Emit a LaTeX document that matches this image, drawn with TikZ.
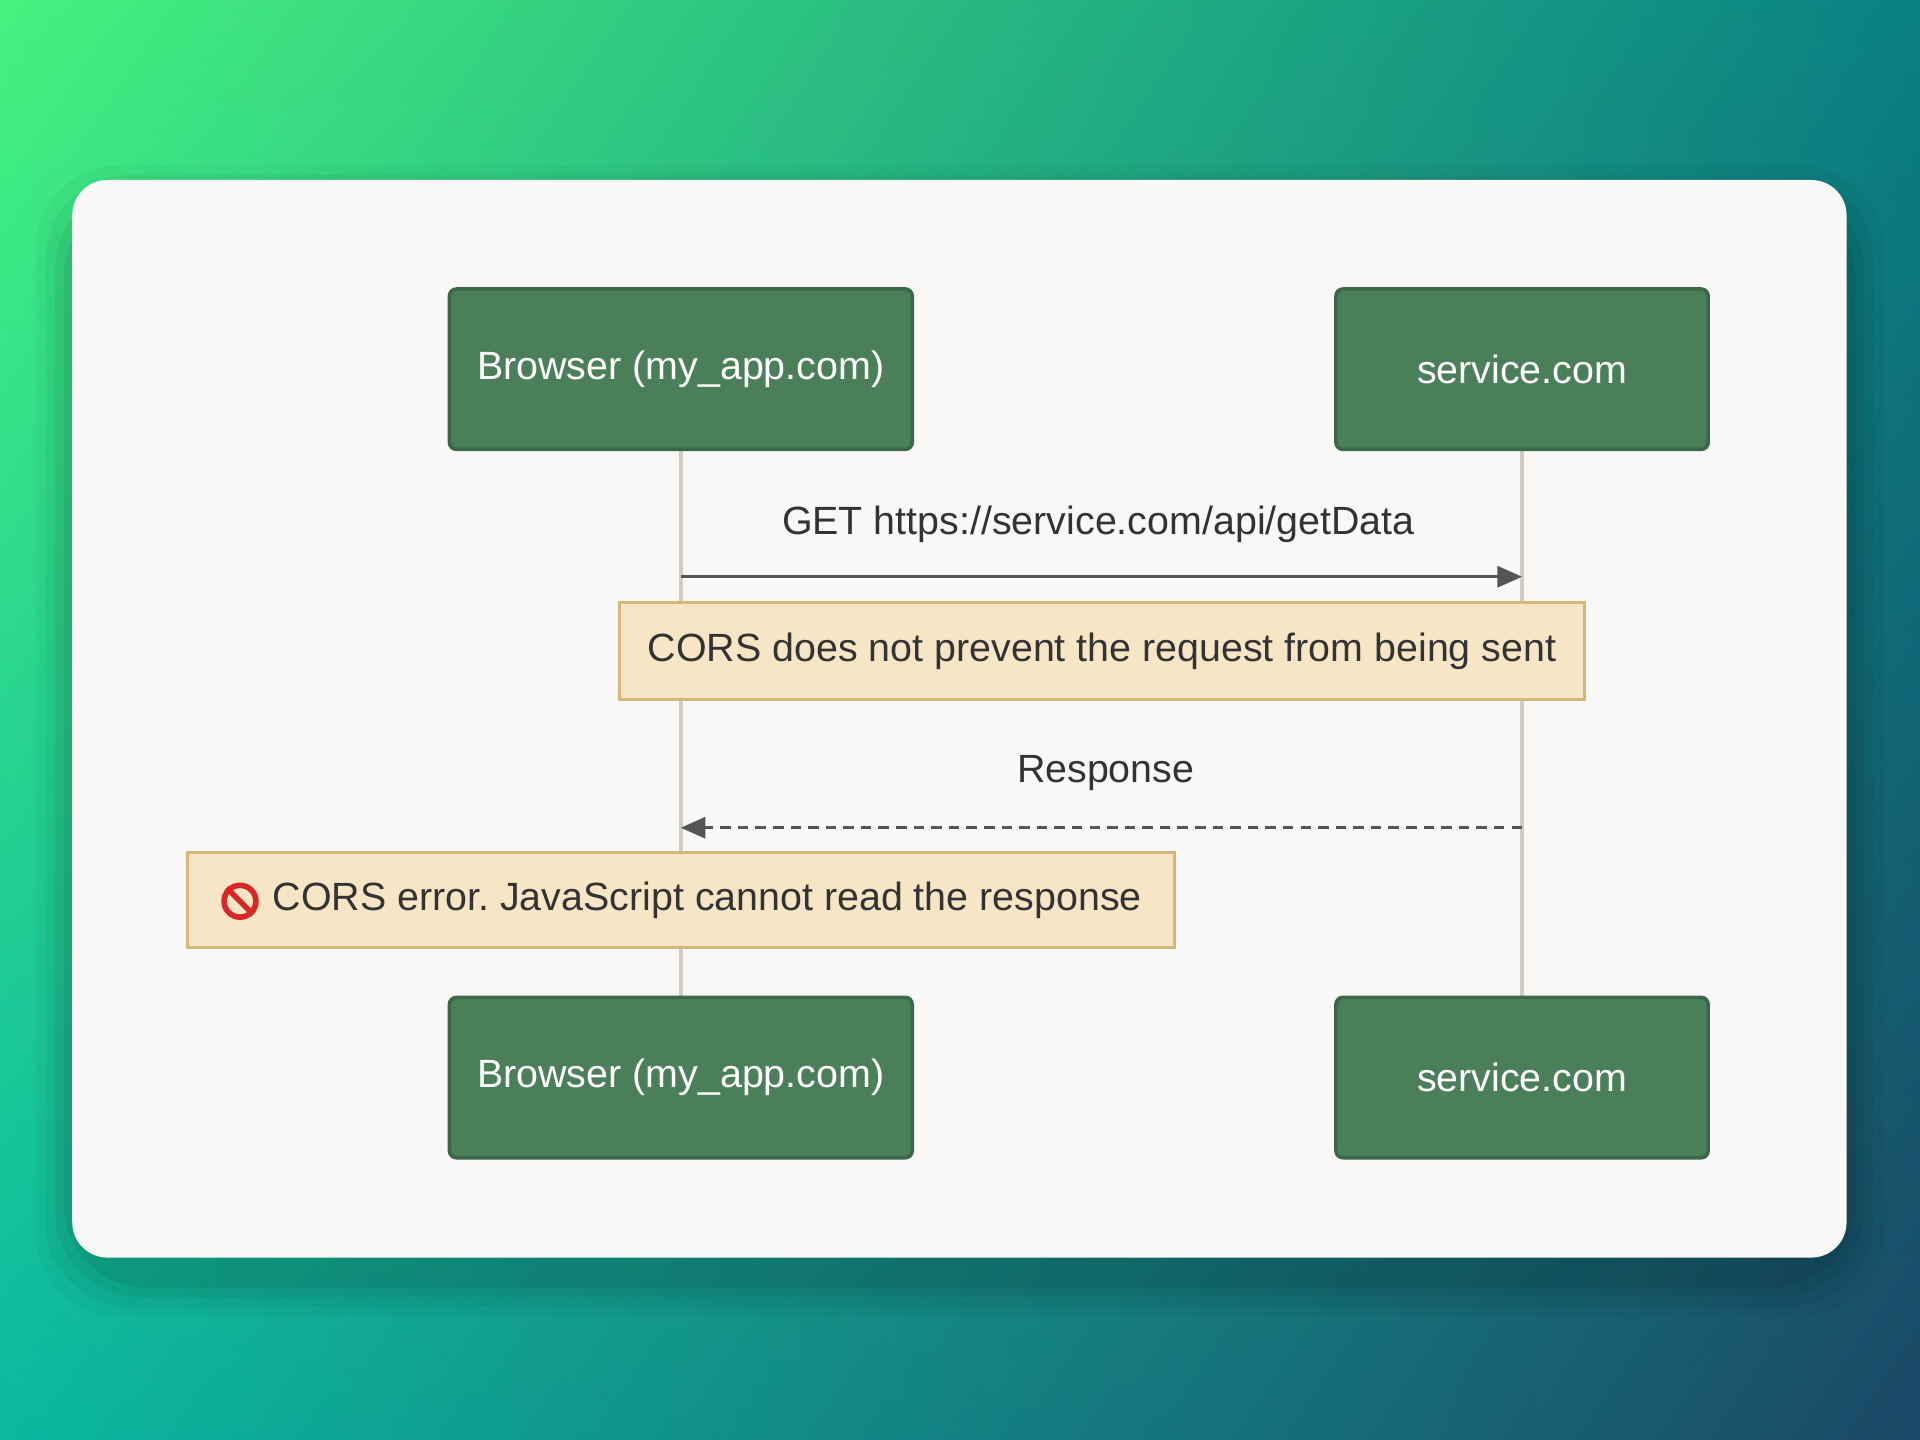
\documentclass[tikz,border=0pt]{standalone}
\usepackage{fontspec}
\setmainfont{Liberation Sans}
\usetikzlibrary{arrows.meta,shadings}
\definecolor{actorfill}{HTML}{4B7F5A}
\definecolor{actordraw}{HTML}{3A6848}
\definecolor{notefill}{HTML}{F7E6C6}
\definecolor{notedraw}{HTML}{D8B678}
\definecolor{lifeline}{HTML}{D0CCC5}
\definecolor{msgline}{HTML}{555555}
\definecolor{cardfill}{HTML}{F9F8F6}
\definecolor{txt}{HTML}{333333}
\definecolor{stopred}{HTML}{D72828}
\definecolor{bgul}{HTML}{46F27F}
\definecolor{bgur}{HTML}{088084}
\definecolor{bgll}{HTML}{0AB9A0}
\definecolor{bglr}{HTML}{1B4866}
\def\pxu{0.012245cm}
\frenchspacing
\begin{document}
\begin{tikzpicture}[x=\pxu,y=-\pxu,
  actor/.style={draw=actordraw,line width=1pt,fill=actorfill,rounded corners=2pt,text=white,minimum height=131*\pxu,font=\fontsize{11.2}{13}\selectfont},
  note/.style={draw=notedraw,line width=0.8pt,fill=notefill,text=txt,font=\fontsize{11.2}{13}\selectfont},
  msg/.style={msgline,line width=0.8pt,-{Triangle[length=7pt,width=6pt]}},
  lbl/.style={text=txt,font=\fontsize{11.2}{13}\selectfont}]
\useasboundingbox (0,0) rectangle (1568,1176);
\shade[upper left=bgul,upper right=bgur,lower left=bgll,lower right=bglr]
  (0,0) rectangle (1568,1176);
% card shadow
\foreach \s/\o in {30/0.03,22/0.04,14/0.05,7/0.06}
  \fill[black,opacity=\o,rounded corners=24pt] (59-\s,147-\s+18) rectangle (1508+\s,1027+\s+18);
\fill[cardfill,rounded corners=10pt] (59,147) rectangle (1508,1027);
% lifelines
\coordinate (bt) at (556,367); \coordinate (bb) at (556,815);
\coordinate (st) at (1243,367); \coordinate (sb) at (1243,815);
\draw[lifeline,line width=1.3pt] (bt) -- (bb);
\draw[lifeline,line width=1.3pt] (st) -- (sb);
% actors
\node[actor,minimum width=378*\pxu] (browser) at (556,301.5) {Browser (my\_app.com)};
\node[actor,minimum width=304*\pxu] (service) at (1243,301.5) {service.com};
\node[actor,minimum width=378*\pxu] (browser2) at (556,880) {Browser (my\_app.com)};
\node[actor,minimum width=304*\pxu] (service2) at (1243,880) {service.com};
% messages
\coordinate (g1) at (556,471); \coordinate (g2) at (1243,471);
\draw[msg] (g1) -- (g2);
\node[lbl] (getlbl) at (897,428) {GET https://service.com/api/getData};
\node[note,minimum width=788*\pxu,minimum height=79*\pxu] (note1) at (900,531.5) {CORS does not prevent the request from being sent};
\coordinate (r1) at (1243,676); \coordinate (r2) at (556,676);
\draw[msg,dash pattern=on 3pt off 2pt] (r1) -- (r2);
\node[lbl] (resplbl) at (903,631) {Response};
\node[note,minimum width=806*\pxu,minimum height=78*\pxu] (note2) at (556,735)
  {\hspace*{15pt}CORS error. JavaScript cannot read the response};
% no-entry icon
\node[circle,draw=stopred,line width=1.6pt,minimum size=26*\pxu,inner sep=0pt] (stop) at (196,736) {};
\draw[stopred,line width=1.6pt] (stop.north west) -- (stop.south east);
\end{tikzpicture}
\end{document}
